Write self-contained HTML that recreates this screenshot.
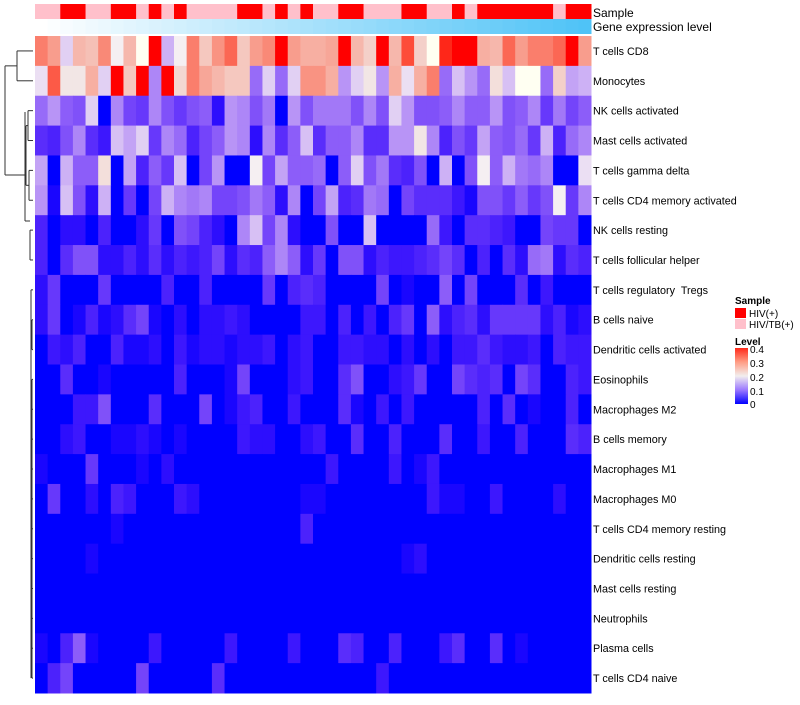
<!DOCTYPE html>
<html><head><meta charset="utf-8">
<style>
body{margin:0;background:#fff;}
svg text{font-family:"Liberation Sans",sans-serif;}
</style></head>
<body>
<svg id="chart" width="800" height="700" xmlns="http://www.w3.org/2000/svg">
<g id="dendro" stroke="#333" stroke-width="1" fill="none"></g>
<g id="anno"></g>
<g id="cells"></g>
<g id="labels"></g>
<text x="593" y="17" font-size="12">Sample</text>
<text x="593" y="31" font-size="12">Gene expression level</text>
<g>
<text x="735" y="304" font-size="10" font-weight="bold">Sample</text>
<rect x="735" y="308" width="11" height="10" fill="#ff0000"/>
<text x="749" y="317" font-size="10">HIV(+)</text>
<rect x="735" y="319" width="11" height="10" fill="#ffc0cb"/>
<text x="749" y="328" font-size="10">HIV/TB(+)</text>
<text x="735" y="345" font-size="10" font-weight="bold">Level</text>
<defs><linearGradient id="lg" x1="0" y1="1" x2="0" y2="0">
<stop offset="0" stop-color="#0000ff"/><stop offset="0.25" stop-color="#9a78ff"/><stop offset="0.5" stop-color="#f2eeee"/><stop offset="0.75" stop-color="#ff9c84"/><stop offset="1" stop-color="#ff2a1a"/></linearGradient></defs>
<rect x="735" y="348" width="13" height="56" fill="url(#lg)"/>
<text x="750" y="353" font-size="10">0.4</text>
<text x="750" y="367" font-size="10">0.3</text>
<text x="750" y="381" font-size="10">0.2</text>
<text x="750" y="395" font-size="10">0.1</text>
<text x="750" y="408" font-size="10">0</text>
</g>
</svg>
<script>
const rowNames=["T cells CD8","Monocytes","NK cells activated","Mast cells activated","T cells gamma delta","T cells CD4 memory activated","NK cells resting","T cells follicular helper","T cells regulatory  Tregs","B cells naive","Dendritic cells activated","Eosinophils","Macrophages M2","B cells memory","Macrophages M1","Macrophages M0","T cells CD4 memory resting","Dendritic cells resting","Mast cells resting","Neutrophils","Plasma cells","T cells CD4 naive"];
const sampleType=[0,0,1,1,0,0,1,1,0,1,0,1,0,0,0,0,1,1,0,1,0,1,0,0,1,1,0,0,0,1,1,0,0,1,0,1,1,1,1,1,1,0,1,1];
const r0=[0.33,0.30,0.17,0.27,0.26,0.32,0.19,0.27,0.20,0.40,0.15,0.19,0.33,0.25,0.31,0.35,0.25,0.30,0.32,0.40,0.30,0.28,0.28,0.29,0.40,0.27,0.24,0.40,0.27,0.37,0.24,0.20,0.39,0.40,0.40,0.28,0.27,0.35,0.30,0.33,0.33,0.35,0.40,0.30];
const r1=[0.18,0.36,0.21,0.21,0.28,0.17,0.40,0.25,0.40,0.12,0.40,0.23,0.33,0.29,0.27,0.25,0.25,0.10,0.17,0.10,0.17,0.31,0.31,0.28,0.13,0.17,0.21,0.13,0.28,0.18,0.28,0.33,0.10,0.16,0.13,0.10,0.22,0.16,0.20,0.20,0.10,0.24,0.14,0.15];
const r2=[0.10,0.13,0.09,0.08,0.17,0.00,0.12,0.07,0.06,0.12,0.08,0.06,0.08,0.09,0.02,0.13,0.12,0.08,0.11,0.00,0.13,0.08,0.11,0.11,0.11,0.08,0.12,0.08,0.17,0.13,0.08,0.08,0.09,0.12,0.09,0.09,0.13,0.08,0.09,0.12,0.06,0.11,0.07,0.09];
const r3=[0.05,0.04,0.08,0.12,0.05,0.03,0.16,0.14,0.17,0.06,0.12,0.10,0.04,0.07,0.09,0.13,0.12,0.02,0.12,0.05,0.09,0.16,0.05,0.09,0.09,0.12,0.05,0.05,0.13,0.13,0.21,0.12,0.04,0.08,0.06,0.14,0.09,0.08,0.10,0.06,0.15,0.04,0.10,0.12];
const r4=[0.14,0.00,0.15,0.09,0.09,0.22,0.00,0.14,0.04,0.09,0.06,0.16,0.00,0.07,0.13,0.00,0.00,0.19,0.07,0.14,0.09,0.09,0.10,0.00,0.09,0.17,0.08,0.11,0.05,0.04,0.08,0.00,0.15,0.00,0.08,0.19,0.09,0.15,0.11,0.10,0.12,0.00,0.00,0.18];
const r5=[0.13,0.01,0.16,0.08,0.02,0.15,0.00,0.06,0.00,0.07,0.15,0.12,0.11,0.12,0.07,0.07,0.08,0.11,0.09,0.02,0.12,0.00,0.07,0.14,0.04,0.05,0.11,0.10,0.00,0.07,0.05,0.05,0.05,0.03,0.01,0.08,0.08,0.06,0.09,0.06,0.08,0.19,0.06,0.12];
const r6=[0.04,0.00,0.02,0.02,0.00,0.04,0.00,0.00,0.02,0.06,0.00,0.08,0.07,0.04,0.02,0.00,0.12,0.16,0.07,0.12,0.02,0.00,0.00,0.08,0.00,0.00,0.16,0.00,0.00,0.00,0.00,0.10,0.03,0.00,0.05,0.05,0.04,0.03,0.00,0.00,0.07,0.06,0.06,0.00];
const r7=[0.04,0.00,0.05,0.08,0.08,0.02,0.02,0.04,0.02,0.05,0.02,0.04,0.03,0.04,0.07,0.02,0.05,0.04,0.09,0.12,0.09,0.02,0.06,0.00,0.08,0.08,0.02,0.04,0.03,0.03,0.04,0.05,0.07,0.05,0.00,0.04,0.00,0.05,0.02,0.10,0.11,0.02,0.05,0.04];
const r8=[0.02,0.06,0.00,0.00,0.00,0.06,0.00,0.00,0.00,0.00,0.04,0.00,0.00,0.04,0.00,0.00,0.00,0.00,0.06,0.00,0.04,0.05,0.04,0.00,0.00,0.00,0.00,0.07,0.00,0.01,0.00,0.00,0.09,0.00,0.07,0.00,0.00,0.00,0.05,0.00,0.03,0.00,0.00,0.00];
const r9=[0.02,0.06,0.00,0.01,0.04,0.01,0.02,0.05,0.07,0.01,0.00,0.02,0.00,0.02,0.02,0.03,0.02,0.00,0.00,0.00,0.00,0.03,0.03,0.00,0.04,0.00,0.03,0.00,0.04,0.06,0.00,0.09,0.02,0.04,0.05,0.02,0.06,0.06,0.06,0.06,0.02,0.04,0.01,0.02];
const r10=[0.00,0.03,0.02,0.04,0.00,0.00,0.04,0.01,0.01,0.02,0.00,0.03,0.01,0.02,0.02,0.01,0.02,0.02,0.03,0.00,0.02,0.03,0.00,0.00,0.03,0.03,0.02,0.02,0.00,0.02,0.00,0.02,0.00,0.03,0.03,0.05,0.03,0.02,0.02,0.03,0.00,0.04,0.03,0.03];
const r11=[0,0,0.05,0,0,0.01,0,0,0,0,0,0.04,0,0,0,0.01,0.07,0,0,0,0.02,0.03,0,0,0.05,0.08,0,0,0.02,0.03,0.06,0,0,0.07,0.05,0.04,0.05,0,0.07,0.05,0,0,0.04,0.03];
const r12=[0,0,0,0.03,0.03,0.08,0,0,0,0.05,0,0,0,0.07,0,0.01,0.03,0.04,0,0,0.03,0,0,0,0.05,0.01,0,0.03,0,0.03,0,0,0,0,0,0.04,0,0.05,0,0.01,0,0,0.04,0];
const r13=[0,0,0.02,0.03,0,0,0.01,0.01,0.02,0.01,0,0.01,0,0,0,0,0.03,0.02,0.02,0,0,0.02,0.03,0,0,0.05,0,0,0.04,0,0,0,0.05,0,0,0.03,0,0,0.04,0,0,0,0.05,0.04];
const r14=[0.01,0,0,0,0.06,0,0,0,0.01,0,0.02,0,0,0,0,0,0,0,0,0,0,0,0,0.03,0,0,0,0,0.03,0,0.01,0.03,0,0,0,0,0,0,0,0,0,0,0,0];
const r15=[0,0.06,0,0,0.02,0,0.04,0.03,0,0,0,0.03,0.02,0,0,0,0,0,0,0,0,0.01,0.01,0,0,0,0,0,0,0,0,0.03,0.01,0.01,0,0,0.03,0,0,0,0,0.02,0,0];
const r16=[0,0,0,0,0,0,0.01,0,0,0,0,0,0,0,0,0,0,0,0,0,0,0.04,0,0,0,0,0,0,0,0,0,0,0,0,0,0,0,0,0,0,0,0,0,0];
const r17=[0,0,0,0,0.01,0,0,0,0,0,0,0,0,0,0,0,0,0,0,0,0,0,0,0,0,0,0,0,0,0.01,0.02,0,0,0,0,0,0,0,0,0,0,0,0,0];
const r18=[0,0,0,0,0,0,0,0,0,0,0,0,0,0,0,0,0,0,0,0,0,0,0,0,0,0,0,0,0,0,0,0,0,0,0,0,0,0,0,0,0,0,0,0];
const r19=[0,0,0,0,0,0,0,0,0,0,0,0,0,0,0,0,0,0,0,0,0,0,0,0,0,0,0,0,0,0,0,0,0,0,0,0,0,0,0,0,0,0,0,0];
const r20=[0.01,0,0.04,0.09,0.01,0,0,0,0,0.03,0,0,0,0,0,0.03,0,0,0,0,0.03,0,0,0,0.05,0.04,0,0,0.04,0,0,0,0.03,0.05,0,0,0.05,0,0.01,0,0,0,0,0];
const r21=[0,0.04,0.07,0,0,0,0,0,0.07,0,0,0,0,0,0.05,0,0,0,0,0,0,0,0,0,0,0,0,0.03,0,0,0,0,0,0,0,0,0,0,0,0,0,0,0,0];
const values=[r0,r1,r2,r3,r4,r5,r6,r7,r8,r9,r10,r11,r12,r13,r14,r15,r16,r17,r18,r19,r20,r21];

const NS="http://www.w3.org/2000/svg";
const X0=35,X1=591,Y0=36,Y1=693;
const nC=44,nR=values.length;
const cw=(X1-X0)/nC,rh=(Y1-Y0)/nR;
const xPos=i=>X0+i*cw, yPos=j=>Y0+j*rh;
function color(v){
  let t=Math.max(0,Math.min(0.4,v))/0.2;
  let r,g,b;
  if(t<=1){r=255*Math.pow(t,0.75);g=255*Math.pow(t,1.25);b=255-13*t;}
  else{const s=t-1;r=242+13*s;g=238*Math.pow(1-s,0.6);b=238*Math.pow(1-s,0.75);}
  return `rgb(${r|0},${g|0},${b|0})`;
}
function mk(tag,attrs,parent){const e=document.createElementNS(NS,tag);for(const k in attrs)e.setAttribute(k,attrs[k]);parent.appendChild(e);return e;}
const cells=document.getElementById('cells');
values.forEach((row,j)=>row.forEach((v,i)=>{
  const r=mk('rect',{x:xPos(i),y:yPos(j),width:cw+0.5,height:rh+0.5,fill:color(v)},cells);
  
  
}));
const labels=document.getElementById('labels');
rowNames.forEach((n,j)=>{
  const t=mk('text',{x:593,y:yPos(j)+rh/2+4,'font-size':10.8,style:'white-space:pre'},labels);
  t.textContent=n;
  
  
});
const anno=document.getElementById('anno');
for(let i=0;i<nC;i++){
  const a=mk('rect',{x:xPos(i),y:4,width:cw+0.5,height:15,fill:sampleType[i]?'#ff0000':'#ffc0cb'},anno);
  
  
  const f=i/(nC-1);
  const g=mk('rect',{x:xPos(i),y:19,width:cw+0.5,height:15,fill:`rgb(${Math.round(255-(255-79)*f)},${Math.round(255-(255-195)*f)},${Math.round(255-(255-247)*f)})`},anno);
  
  
}
const d=document.getElementById('dendro');
const cy=j=>yPos(j)+rh/2;
const segs=[
 [17,cy(0),33,cy(0)],[17,cy(1),33,cy(1)],[17,cy(0),17,cy(1)],
 [5,(cy(0)+cy(1))/2,17,(cy(0)+cy(1))/2],
 [5,(cy(0)+cy(1))/2,5,175],[5,175,25,175],
 [25,112,25,221],
 [28,cy(2),33,cy(2)],[28,cy(3),33,cy(3)],[28,cy(2),28,cy(3)],[26,(cy(2)+cy(3))/2,28,(cy(2)+cy(3))/2],
 [29,cy(4),33,cy(4)],[29,cy(5),33,cy(5)],[29,cy(4),29,cy(5)],[26,(cy(4)+cy(5))/2,29,(cy(4)+cy(5))/2],
 [26,(cy(2)+cy(3))/2,26,(cy(4)+cy(5))/2],
 [30,cy(6),33,cy(6)],[30,cy(7),33,cy(7)],[30,cy(6),30,cy(7)],
 [25,221,30,221],
 [31,cy(8),33,cy(8)],[32,cy(9),33,cy(9)],[32,cy(10),33,cy(10)],[32,cy(9),32,cy(10)],
 [31,cy(8),31,cy(21)],
];
for(let j=11;j<22;j++)segs.push([32,cy(j),33,cy(j)]);
segs.push([32,cy(11),32,cy(21)]);
segs.forEach(s=>{
  const l=mk('line',{x1:s[0],y1:s[1],x2:s[2],y2:s[3]},d);
  
  
});
</script>
</body></html>
